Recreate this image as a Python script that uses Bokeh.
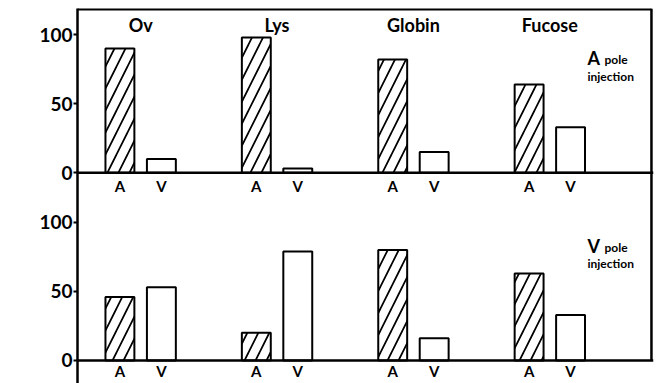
import numpy as np
from bokeh.plotting import figure
from bokeh.models import ColumnDataSource, Range1d, FixedTicker, Span, Label
from bokeh.transform import dodge
from bokeh.core.properties import value
from bokeh.embed import file_html
from bokeh.resources import INLINE

# ---- data ----
substances = ["Ov", "Lys", "Globin", "Fucose"]
pole_labels = ["A", "V"]
a_inj_A = [90, 98, 82, 64]   # A pole injection, A bars (hatched)
a_inj_V = [10, 3, 15, 33]    # A pole injection, V bars (open)
v_inj_A = [46, 20, 80, 63]   # V pole injection, A bars (hatched)
v_inj_V = [53, 79, 16, 33]   # V pole injection, V bars (open)
y_ticks = [0, 50, 100]

FONT = "Lato"
OFFSET = 136          # vertical shift of the upper panel
DX = 0.152            # half distance between A and V bar within a group
BAR_W = 0.212
X_START, X_END = -0.463, 3.76
Y_START, Y_END = -16.7, 255.0
RIGHT = 3.745

pos = np.arange(len(substances))
src = ColumnDataSource(dict(
    x=pos,
    sub=substances,
    lab_A=[pole_labels[0]] * len(substances),
    lab_V=[pole_labels[1]] * len(substances),
    top_base=[OFFSET] * len(substances),
    bot_base=[0] * len(substances),
    tA=np.array(a_inj_A) + OFFSET,
    tV=np.array(a_inj_V) + OFFSET,
    bA=v_inj_A,
    bV=v_inj_V,
))

p = figure(width=657, height=383, output_backend="svg", toolbar_location=None,
           x_range=Range1d(X_START, X_END), y_range=Range1d(Y_START, Y_END),
           x_axis_location=None, min_border_left=77, min_border_right=4,
           min_border_top=8, min_border_bottom=0, outline_line_color=None)
p.grid.visible = False

xa = dodge("x", -DX, range=p.x_range)
xv = dodge("x", DX, range=p.x_range)

hatch = dict(fill_color="white", line_color="black", line_width=2,
             hatch_pattern="/", hatch_color="black", hatch_weight=1.7, hatch_scale=22)
openb = dict(fill_color="white", line_color="black", line_width=2)

p.vbar(x=xa, width=BAR_W, bottom="top_base", top="tA", source=src, **hatch)
p.vbar(x=xv, width=BAR_W, bottom="top_base", top="tV", source=src, **openb)
p.vbar(x=xa, width=BAR_W, bottom="bot_base", top="bA", source=src, **hatch)
p.vbar(x=xv, width=BAR_W, bottom="bot_base", top="bV", source=src, **openb)

# baselines and frame lines
for loc in (0, OFFSET):
    p.add_layout(Span(location=loc, dimension="width", line_color="black", line_width=2.5))
p.segment(x0=[RIGHT], y0=[0], x1=[RIGHT], y1=[Y_END], line_color="black", line_width=2.5)
p.segment(x0=[X_START], y0=[Y_END], x1=[RIGHT], y1=[Y_END], line_color="black", line_width=4)

# A / V labels under each panel
tstyle = dict(text_font=value(FONT), text_font_size="15px", text_font_style="bold",
              text_align="center", text_baseline="top", text_color="black")
for ybase, yoff in (("top_base", 4), ("bot_base", 2)):
    p.text(x=xa, y=ybase, text="lab_A", y_offset=yoff, source=src, **tstyle)
    p.text(x=xv, y=ybase, text="lab_V", y_offset=yoff, source=src, **tstyle)

# substance names on top
p.text(x="x", y=Y_END, text="sub", y_offset=5, source=src,
       text_font=value(FONT), text_font_size="18px", text_font_style="bold",
       text_align="center", text_baseline="top", text_color="black")

# y axis
ax = p.yaxis[0]
ax.ticker = FixedTicker(ticks=y_ticks + [t + OFFSET for t in y_ticks])
ax.major_label_overrides = {**{t: str(t) for t in y_ticks},
                            **{t + OFFSET: str(t) for t in y_ticks}}
ax.axis_line_width = 2.5
ax.major_tick_line_width = 2
ax.major_tick_out = 4
ax.major_tick_in = 0
ax.minor_tick_line_color = None
ax.major_label_text_font = FONT
ax.major_label_text_font_size = "19px"
ax.major_label_text_font_style = "bold"
ax.major_label_text_color = "black"
ax.major_label_standoff = 1

lab = dict(text_font=FONT, text_font_style="bold", text_color="black")
for yc in (OFFSET + 55, 48):
    p.add_layout(Label(x=-57, x_units="screen", y=yc, y_units="data", text="% of protein",
                       angle=np.pi / 2, text_align="center", text_baseline="middle",
                       text_font_size="12px", **lab))

for letter, base in (("A", OFFSET), ("V", 0)):
    p.add_layout(Label(x=510, x_units="screen", y=base + 83, y_units="data", text=letter,
                       text_font_size="18px", text_baseline="alphabetic", **lab))
    p.add_layout(Label(x=527, x_units="screen", y=base + 82, y_units="data", text="pole",
                       text_font_size="12px", text_baseline="alphabetic", **lab))
    p.add_layout(Label(x=510, x_units="screen", y=base + 70, y_units="data", text="injection",
                       text_font_size="12px", text_baseline="alphabetic", **lab))

open("out.html", "w").write(file_html(p, INLINE))
